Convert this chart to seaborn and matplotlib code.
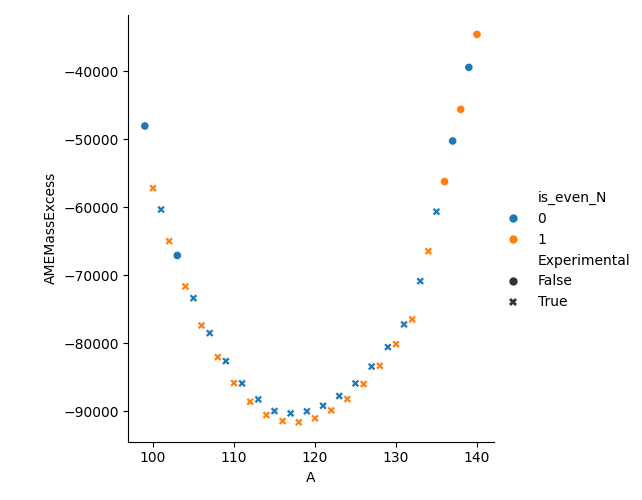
import pandas as pd
import matplotlib.pyplot as plt
import seaborn as sns

A = list(range(99, 141))
mass_excess = [
    -48040, -57200, -60340, -65000, -67100, -71660, -73380, -77400, -78530, -82060,
    -82650, -85880, -85930, -88630, -88280, -90590, -90000, -91470, -90340, -91660,
    -90040, -91070, -89220, -89900, -87790, -88240, -85930, -86030, -83460, -83340,
    -80590, -80150, -77250, -76510, -70880, -66470, -60660, -56220, -50250, -45590,
    -39410, -34560,
]
is_even_N = [0, 1] * 21
experimental = [False] + [True] * 3 + [False] + [True] * 32 + [False] * 5


def main():
    df = pd.DataFrame({
        'A': A,
        'AMEMassExcess': mass_excess,
        'is_even_N': is_even_N,
        'Experimental': experimental,
    })

    g = sns.relplot(data=df, x='A', y='AMEMassExcess',
                    hue='is_even_N', style='Experimental',
                    style_order=[False, True])
    g.figure.savefig('out.png')


if __name__ == "__main__":
    main()
